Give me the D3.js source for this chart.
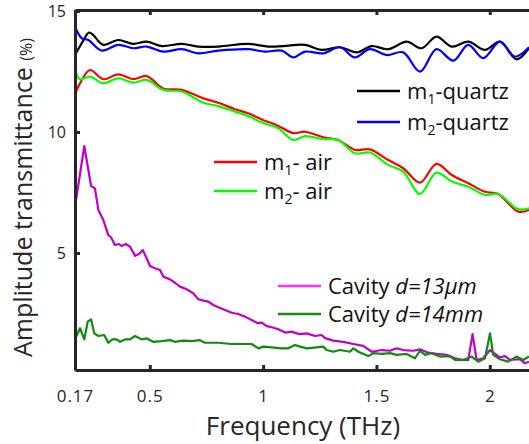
<!DOCTYPE html>
<html lang="en">
<head>
    <meta charset="UTF-8">
    <title>Amplitude transmittance vs frequency</title>
    <script src="https://d3js.org/d3.v7.min.js"></script>
    <style>
        body { margin: 0; background: #fff; }
        text { font-family: "Open Sans", "Noto Sans", sans-serif; }
    </style>
</head>
<body>
    <svg width="529" height="444"></svg>

    <script>
        // Values (frequency in THz, transmittance in %)
        const q1Freq = [0.170, 0.200, 0.232, 0.251, 0.295, 0.361, 0.427, 0.486, 0.552, 0.641, 0.714, 0.802, 0.934, 1.023, 1.089, 1.185, 1.258, 1.339, 1.413, 1.479, 1.552, 1.633, 1.699, 1.765, 1.832, 1.905, 1.979, 2.045, 2.118, 2.173];
        const q1Vals = [13.18, 13.67, 14.11, 14.00, 13.60, 13.80, 13.64, 13.73, 13.55, 13.64, 13.53, 13.53, 13.64, 13.53, 13.55, 13.60, 13.39, 13.50, 13.29, 13.55, 13.42, 13.73, 13.46, 13.94, 13.53, 13.73, 13.39, 13.73, 13.00, 13.46];

        const q2Freq = [0.170, 0.200, 0.229, 0.288, 0.361, 0.427, 0.486, 0.559, 0.641, 0.714, 0.802, 0.934, 1.008, 1.082, 1.133, 1.185, 1.265, 1.339, 1.405, 1.471, 1.545, 1.618, 1.692, 1.765, 1.839, 1.905, 1.971, 2.045, 2.111, 2.173];
        const q2Vals = [14.35, 13.87, 13.80, 13.36, 13.60, 13.46, 13.53, 13.32, 13.42, 13.25, 13.36, 13.42, 13.32, 13.36, 13.08, 13.32, 13.25, 13.50, 13.08, 13.42, 13.18, 13.29, 12.49, 13.42, 12.95, 13.60, 13.05, 13.73, 13.11, 13.50];

        const airFreq = [0.170, 0.192, 0.236, 0.295, 0.361, 0.427, 0.486, 0.559, 0.641, 0.736, 0.802, 0.876, 0.934, 0.994, 1.067, 1.133, 1.185, 1.265, 1.331, 1.405, 1.471, 1.552, 1.618, 1.692, 1.765, 1.832, 1.905, 1.979, 2.037, 2.125, 2.173];
        const air1Vals = [11.57, 12.01, 12.56, 12.18, 12.38, 12.18, 12.31, 11.80, 11.74, 11.39, 11.21, 10.94, 10.77, 10.52, 10.25, 9.95, 10.01, 9.78, 9.67, 9.26, 9.28, 8.84, 8.50, 7.91, 8.68, 8.22, 7.88, 7.53, 7.44, 6.71, 6.78];
        const air2Vals = [12.56, 12.18, 12.29, 12.01, 12.22, 12.04, 12.15, 11.74, 11.67, 11.21, 11.07, 10.84, 10.66, 10.39, 10.15, 9.67, 9.83, 9.70, 9.67, 9.12, 9.15, 8.64, 8.36, 7.44, 8.32, 7.95, 7.74, 7.40, 7.44, 6.81, 6.85];

        const cav13Freq = [0.170, 0.211, 0.241, 0.258, 0.273, 0.295, 0.317, 0.329, 0.346, 0.364, 0.376, 0.394, 0.413, 0.435, 0.452, 0.469, 0.486, 0.501, 0.523, 0.545, 0.560, 0.589, 0.611, 0.633, 0.663, 0.692, 0.714, 0.736, 0.758, 0.780, 0.802, 0.832, 0.861, 0.890, 0.920, 0.949, 0.976, 0.994, 1.016, 1.038, 1.067, 1.097, 1.126, 1.148, 1.163, 1.192, 1.229, 1.258, 1.273, 1.309, 1.353, 1.398, 1.442, 1.479, 1.523, 1.560, 1.589, 1.618, 1.662, 1.692, 1.728, 1.765, 1.810, 1.846, 1.883, 1.905, 1.924, 1.942, 1.971, 2.001, 2.023, 2.045, 2.067, 2.089, 2.133, 2.155, 2.173];
        const cav13Vals = [6.91, 9.42, 7.77, 7.67, 6.78, 6.36, 5.74, 5.65, 5.33, 5.37, 5.29, 5.37, 5.26, 4.88, 4.96, 5.12, 4.78, 4.46, 4.37, 4.30, 4.02, 3.91, 3.77, 3.61, 3.50, 3.33, 3.09, 3.03, 2.99, 2.85, 2.76, 2.64, 2.53, 2.48, 2.37, 2.23, 2.10, 2.12, 1.98, 1.93, 1.85, 1.71, 1.75, 1.68, 1.65, 1.68, 1.57, 1.61, 1.48, 1.38, 1.33, 1.24, 1.16, 0.92, 0.99, 0.96, 1.06, 0.99, 0.96, 1.02, 0.88, 0.83, 0.79, 0.65, 0.58, 0.58, 1.65, 0.58, 0.65, 0.99, 0.83, 0.69, 0.74, 0.58, 0.61, 0.44, 0.51];

        const cav14Freq = [0.170, 0.192, 0.211, 0.226, 0.241, 0.255, 0.273, 0.299, 0.317, 0.335, 0.354, 0.369, 0.391, 0.413, 0.435, 0.464, 0.486, 0.515, 0.552, 0.589, 0.611, 0.648, 0.685, 0.721, 0.743, 0.802, 0.861, 0.905, 0.949, 0.979, 1.001, 1.038, 1.082, 1.111, 1.140, 1.163, 1.192, 1.236, 1.265, 1.280, 1.309, 1.339, 1.383, 1.398, 1.420, 1.464, 1.486, 1.523, 1.560, 1.589, 1.633, 1.670, 1.692, 1.714, 1.743, 1.780, 1.824, 1.846, 1.883, 1.920, 1.949, 1.979, 2.001, 2.015, 2.045, 2.081, 2.118, 2.148, 2.173];
        const cav14Vals = [1.43, 1.89, 1.43, 2.16, 2.26, 1.68, 1.57, 1.61, 1.29, 1.43, 1.43, 1.33, 1.43, 1.43, 1.57, 1.43, 1.47, 1.33, 1.36, 1.40, 1.33, 1.38, 1.36, 1.40, 1.29, 1.29, 1.24, 1.24, 1.24, 1.06, 1.13, 1.10, 1.06, 1.06, 1.20, 1.13, 1.06, 1.10, 1.13, 0.99, 0.92, 0.99, 0.92, 1.06, 0.92, 0.74, 0.86, 0.83, 0.86, 0.79, 0.83, 0.65, 0.96, 0.79, 0.86, 0.72, 0.74, 0.58, 0.58, 0.72, 0.51, 0.65, 1.68, 0.79, 0.61, 0.51, 0.72, 0.58, 0.72];

        const xTicks = [0.17, 0.5, 1, 1.5, 2];
        const xTickLabels = ["0.17", "0.5", "1", "1.5", "2"];
        const yTicks = [5, 10, 15];

        // Plot frame in pixels
        const plotLeft = 75, plotRight = 529, plotTop = 10, plotBottom = 370;
        const axisColor = "#262626";

        const svg = d3.select("svg");

        const x = d3.scaleLinear().domain([0.17, 2.173]).range([plotLeft, plotRight]);
        const y = d3.scaleLinear().domain([0.165, 15.04]).range([plotBottom, plotTop]);

        svg.append("defs").append("clipPath")
           .attr("id", "plot")
           .append("rect")
           .attr("x", plotLeft).attr("y", plotTop)
           .attr("width", plotRight - plotLeft).attr("height", plotBottom - plotTop);

        const series = [
            { f: q1Freq, v: q1Vals, color: "#000000", smooth: true },
            { f: q2Freq, v: q2Vals, color: "#0000ff", smooth: true },
            { f: airFreq, v: air1Vals, color: "#ff0000", smooth: true },
            { f: airFreq, v: air2Vals, color: "#00ff00", smooth: true },
            { f: cav13Freq, v: cav13Vals, color: "#c000c8", smooth: false },
            { f: cav14Freq, v: cav14Vals, color: "#108a10", smooth: false }
        ];

        const plot = svg.append("g").attr("clip-path", "url(#plot)");

        series.forEach(s => {
            const pts = s.f.map((f, i) => [f, s.v[i]]);
            const line = d3.line()
                           .x(d => x(d[0]))
                           .y(d => y(d[1]))
                           .curve(s.smooth ? d3.curveCatmullRom.alpha(0.5) : d3.curveLinear);
            plot.append("path")
                .datum(pts)
                .attr("fill", "none")
                .attr("stroke", s.color)
                .attr("stroke-width", 2.2)
                .attr("stroke-linejoin", "round")
                .attr("d", line);
        });

        // Axes: bottom, top and left, ticks pointing inward
        const xAxis = svg.append("g")
           .attr("transform", `translate(0,${plotBottom})`)
           .call(d3.axisTop(x).tickValues(xTicks).tickSize(5).tickSizeOuter(0).tickFormat(""));
        const xLabels = svg.append("g")
           .attr("transform", `translate(0,${plotBottom})`)
           .call(d3.axisBottom(x).tickValues(xTicks).tickSize(0).tickPadding(20)
                 .tickFormat((d, i) => xTickLabels[i]));
        xLabels.select(".domain").remove();
        xLabels.selectAll("text")
               .attr("font-size", "17px")
               .attr("fill", axisColor)
               .attr("letter-spacing", "1px");

        const topAxis = svg.append("g")
           .attr("transform", `translate(0,${plotTop})`)
           .call(d3.axisBottom(x).tickValues(xTicks).tickSize(5).tickSizeOuter(0).tickFormat(""));

        const yAxis = svg.append("g")
           .attr("transform", `translate(${plotLeft},0)`)
           .call(d3.axisRight(y).tickValues(yTicks).tickSize(5).tickSizeOuter(0).tickFormat(""));
        const yLabels = svg.append("g")
           .attr("transform", `translate(${plotLeft},0)`)
           .call(d3.axisLeft(y).tickValues(yTicks).tickSize(0).tickPadding(9).tickFormat(d3.format("d")));
        yLabels.select(".domain").remove();
        yLabels.selectAll("text")
               .attr("font-size", "16px")
               .attr("fill", axisColor);

        [xAxis, topAxis, yAxis].forEach(g => {
            g.select(".domain").attr("stroke", axisColor).attr("stroke-width", 3);
            g.selectAll(".tick line").attr("stroke", axisColor).attr("stroke-width", 3);
        });

        // Axis titles
        svg.append("text")
           .attr("x", 303)
           .attr("y", 435)
           .attr("text-anchor", "middle")
           .attr("font-size", "26px")
           .attr("fill", axisColor)
           .text("Frequency (THz)");

        const yTitle = svg.append("text")
           .attr("transform", "translate(32,357) rotate(-90)")
           .attr("font-size", "25px")
           .attr("fill", axisColor);
        yTitle.append("tspan").text("Amplitude transmittance ");
        yTitle.append("tspan").attr("font-size", "16px").text("(%)");

        // Legends
        const legends = [
            { x: 357, y: 91, color: "#000000", label: ["m", "1", "-quartz"] },
            { x: 357, y: 122, color: "#0000ff", label: ["m", "2", "-quartz"] },
            { x: 214, y: 162, color: "#ff0000", label: ["m", "1", "- air"] },
            { x: 214, y: 191, color: "#00ff00", label: ["m", "2", "- air"] },
            { x: 278, y: 286, color: "#ff30ff", cavity: "13µm" },
            { x: 278, y: 314, color: "#1a8a1a", cavity: "14mm" }
        ];

        legends.forEach(l => {
            svg.append("line")
               .attr("x1", l.x).attr("x2", l.x + 43)
               .attr("y1", l.y).attr("y2", l.y)
               .attr("stroke", l.color)
               .attr("stroke-width", 2.5);
            const t = svg.append("text")
               .attr("x", l.x + 50)
               .attr("y", l.y + 8)
               .attr("font-size", "22px")
               .attr("fill", "#111");
            if (l.cavity) {
                t.append("tspan").text("Cavity ");
                t.append("tspan").attr("font-style", "italic").text("d=" + l.cavity);
            } else {
                t.append("tspan").text(l.label[0]);
                t.append("tspan").attr("font-size", "14px").attr("dy", 5).text(l.label[1]);
                t.append("tspan").attr("dy", -5).text(l.label[2]);
            }
        });
    </script>
</body>
</html>
